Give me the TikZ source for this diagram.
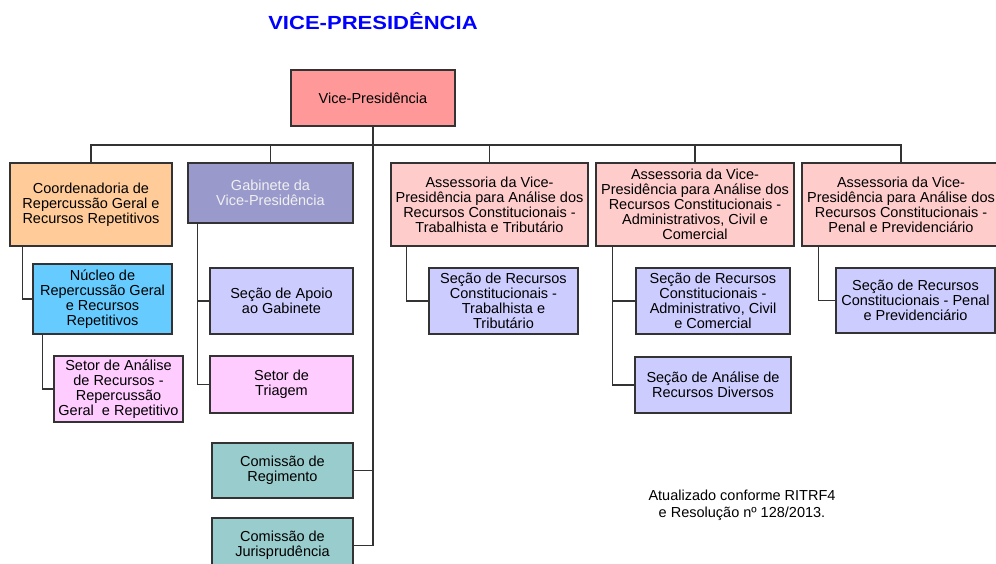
\documentclass[tikz,border=0pt]{standalone}
\usepackage{fontspec}
\setmainfont{Liberation Sans}
\definecolor{vpc}{HTML}{FF9999}
\definecolor{coordc}{HTML}{FFCC99}
\definecolor{gabc}{HTML}{9999CC}
\definecolor{nucc}{HTML}{66CCFF}
\definecolor{pinkc}{HTML}{FFCCFF}
\definecolor{lilac}{HTML}{CCCCFF}
\definecolor{tealc}{HTML}{99CCCC}
\definecolor{rosec}{HTML}{FFCCCC}
\definecolor{linec}{HTML}{333333}
\definecolor{titlec}{HTML}{0000FF}
\tikzset{
  orgbox/.style={draw=linec, line width=1.3pt, inner sep=0pt, align=center,
    font=\fontsize{14.5}{15}\selectfont},
  conn/.style={draw=linec, line width=1.2pt},
}
\begin{document}
\begin{tikzpicture}[x=1pt,y=-1pt]
\useasboundingbox (0,0) rectangle (996,564);
\clip (0,0) rectangle (996,564);
\fill[white] (0,0) rectangle (996,564);

\node[font=\fontsize{19}{20}\selectfont\bfseries, text=titlec] (title) at (373,21) {\scalebox{1.16}[1]{VICE-PRESIDÊNCIA}};

\node[orgbox, fill=vpc, minimum width=164pt, minimum height=56pt] (vp) at (373,98) {Vice-Presidência};

\node[orgbox, fill=coordc, minimum width=162pt, minimum height=83pt] (coord) at (91,204.5) {Coordenadoria de\\Repercussão Geral e\\Recursos Repetitivos};
\node[orgbox, fill=gabc, text=white!94!black, minimum width=165pt, minimum height=60pt] (gab) at (270.5,193) {Gabinete da\\Vice-Presidência};
\node[orgbox, fill=nucc, minimum width=139pt, minimum height=70pt] (nuc) at (102.5,299) {Núcleo de\\Repercussão Geral\\e Recursos\\Repetitivos};
\node[orgbox, fill=pinkc, minimum width=129pt, minimum height=66pt] (setor) at (118.5,389) {Setor de Análise\\de Recursos -\\Repercussão\\Geral \ e Repetitivo};
\node[orgbox, fill=lilac, minimum width=143pt, minimum height=66pt] (apoio) at (281.5,301) {Seção de Apoio\\ao Gabinete};
\node[orgbox, fill=pinkc, minimum width=143pt, minimum height=57pt] (triag) at (281.5,384.5) {Setor de\\Triagem};
\node[orgbox, fill=tealc, minimum width=141pt, minimum height=55pt] (reg) at (282.5,470.5) {Comissão de\\Regimento};
\node[orgbox, fill=tealc, minimum width=141pt, minimum height=55pt] (jur) at (282.5,545.5) {Comissão de\\Jurisprudência};

\node[orgbox, fill=rosec, minimum width=197pt, minimum height=83pt] (a1) at (489.5,204.5) {Assessoria da Vice-\\Presidência para Análise dos\\Recursos Constitucionais -\\Trabalhista e Tributário};
\node[orgbox, fill=rosec, minimum width=198pt, minimum height=83pt] (a2) at (695,204.5) {Assessoria da Vice-\\Presidência para Análise dos\\Recursos Constitucionais -\\Administrativos, Civil e\\Comercial};
\node[orgbox, fill=rosec, minimum width=198pt, minimum height=83pt] (a3) at (901,204.5) {Assessoria da Vice-\\Presidência para Análise dos\\Recursos Constitucionais -\\Penal e Previdenciário};

\node[orgbox, fill=lilac, minimum width=149pt, minimum height=66pt] (s1) at (503.5,301) {Seção de Recursos\\Constitucionais -\\Trabalhista e\\Tributário};
\node[orgbox, fill=lilac, minimum width=154pt, minimum height=66pt] (s2) at (713,301) {Seção de Recursos\\Constitucionais -\\Administrativo, Civil\\e Comercial};
\node[orgbox, fill=lilac, minimum width=159pt, minimum height=65pt] (s3) at (915.5,300.5) {Seção de Recursos\\Constitucionais - Penal\\e Previdenciário};
\node[orgbox, fill=lilac, minimum width=156pt, minimum height=56pt] (s4) at (713,385) {Seção de Análise de\\Recursos Diversos};

\node[align=center, font=\fontsize{14.5}{16.8}\selectfont] (note) at (742,505) {Atualizado conforme RITRF4\\e Resolução nº 128/2013.};

\coordinate (bus) at (373,145);
% main tree
\draw[conn] (vp.south) -- (bus);
\draw[conn] (coord.north) |- (bus) -| (a3.north);
\draw[conn] (gab.north) -- (gab.north |- bus);
\draw[conn] (a1.north) -- (a1.north |- bus);
\draw[conn] (a2.north) -- (a2.north |- bus);
\draw[conn] (bus) |- (reg.east);
\draw[conn] (bus) |- (jur.east);
% left branches
\draw[conn] ([xshift=13pt]coord.south west) |- (nuc.west);
\draw[conn] ([xshift=10pt]nuc.south west) |- (setor.west);
\draw[conn] ([xshift=10pt]gab.south west) |- (apoio.west);
\draw[conn] ([xshift=10pt]gab.south west) |- (triag.west);
% right branches
\draw[conn] ([xshift=16pt]a1.south west) |- (s1.west);
\draw[conn] ([xshift=17pt]a2.south west) |- (s2.west);
\draw[conn] ([xshift=17pt]a2.south west) |- (s4.west);
\draw[conn] ([xshift=17pt]a3.south west) |- (s3.west);
\end{tikzpicture}
\end{document}
